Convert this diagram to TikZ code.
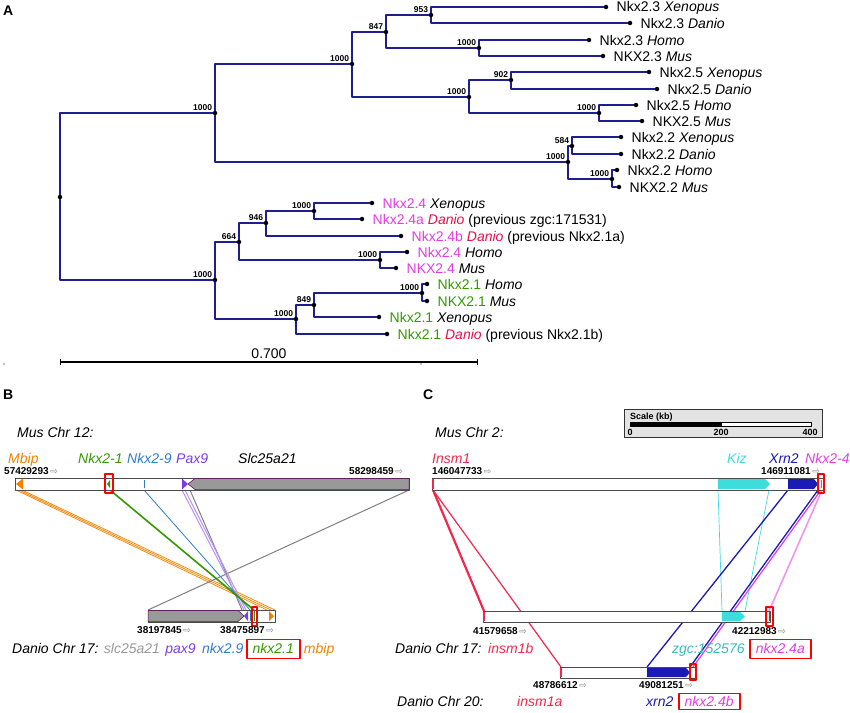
\documentclass[tikz,border=0pt]{standalone}
\usepackage{fontspec}
\setmainfont{Liberation Sans}
\newfontfamily\arrowfont{DejaVu Sans}
\usetikzlibrary{positioning,arrows.meta}

\definecolor{treeblue}{HTML}{1E1E8C}
\definecolor{nkxmag}{HTML}{E23CE2}
\definecolor{nkxgreen}{HTML}{339900}
\definecolor{danred}{HTML}{E8104A}
\definecolor{mbiporange}{HTML}{F08200}
\definecolor{nkxblue}{HTML}{2E7BCF}
\definecolor{paxpurple}{HTML}{7A3BE8}
\definecolor{slcgrey}{HTML}{999999}
\definecolor{kizcyan}{HTML}{3FDCDC}
\definecolor{xrnblue}{HTML}{1A1AB4}
\definecolor{insmred}{HTML}{F0284B}

\newcommand{\chrpos}[1]{\textbf{#1}\,{\arrowfont\fontsize{9}{9}\selectfont\color{gray}⇨}}

\begin{document}
\begin{tikzpicture}[x=1pt,y=-1pt,line join=round,
                    font=\fontsize{14}{16}\selectfont]
  \tikzstyle{fork}=[circle,fill=black,minimum size=4.5pt,inner sep=0pt]
  \tikzstyle{boot}=[font=\bfseries\fontsize{8.5}{9}\selectfont,inner sep=1pt,text height=6.5pt,text depth=0pt]
  \tikzstyle{leaf}=[inner sep=0pt,text height=10pt,text depth=0pt]
  \tikzstyle{branch}=[draw=treeblue,line width=1.7pt,to path={|- (\tikztotarget)}]
  \tikzstyle{glab}=[font=\itshape\fontsize{14}{16}\selectfont,inner sep=0pt]
  \tikzstyle{coord}=[font=\fontsize{10}{12}\selectfont,inner sep=0pt,anchor=base west]
  \tikzstyle{panel}=[font=\bfseries\fontsize{14}{16}\selectfont,inner sep=0pt,anchor=base west]
  \tikzstyle{genebox}=[draw=red,line width=1.9pt,inner xsep=6pt,inner ysep=2.5pt,text height=11pt,text depth=3pt]
  \tikzstyle{redbox}=[draw=red,line width=1.4pt]
  \tikzstyle{chrom}=[draw=black!70,line width=1pt,fill=white]
  \tikzstyle{syn}=[line width=1pt]

  \useasboundingbox (0,0) rectangle (850,712);

  \node[panel] (pA) at (3,16) {A};
  \node[panel] (pB) at (3,399) {B};
  \node[panel] (pC) at (423,399) {C};

  \node[fork]                                 (R)  at (60,197)  {};
  \node[fork,label={[boot]north west:1000}]   (a)  at (215,113) {};
  \node[fork,label={[boot]north west:1000}]   (b)  at (352,64)  {};
  \node[fork,label={[boot]north west:847}]    (c)  at (386,32)  {};
  \node[fork,label={[boot]north west:953}]    (d)  at (431,15)  {};
  \node[fork,label={[boot]north west:1000}]   (e)  at (479,48)  {};
  \node[fork,label={[boot]north west:1000}]   (f)  at (469,97)  {};
  \node[fork,label={[boot]north west:902}]    (g)  at (511,80)  {};
  \node[fork,label={[boot]north west:1000}]   (h)  at (599,113) {};
  \node[fork,label={[boot]north west:1000}]   (i)  at (568,162) {};
  \node[fork,label={[boot]north west:584}]    (j)  at (572,146) {};
  \node[fork,label={[boot]north west:1000}]   (k)  at (612,179) {};
  \node[fork,label={[boot]north west:1000}]   (l)  at (215,280) {};
  \node[fork,label={[boot]north west:664}]    (m)  at (239,242) {};
  \node[fork,label={[boot]north west:946}]    (n)  at (266,223) {};
  \node[fork,label={[boot]north west:1000}]   (o)  at (314,211) {};
  \node[fork,label={[boot]north west:1000}]   (p)  at (380,260) {};
  \node[fork,label={[boot]north west:1000}]   (q)  at (296,319) {};
  \node[fork,label={[boot]north west:849}]    (s)  at (314,305) {};
  \node[fork,label={[boot]north west:1000}]   (t)  at (422,293) {};

  \node[fork] (X3) at (606,7)   {};
  \node[fork] (D3) at (630,23)  {};
  \node[fork] (H3) at (589,40)  {};
  \node[fork] (M3) at (603,56)  {};
  \node[fork] (X5) at (649,72)  {};
  \node[fork] (D5) at (657,89)  {};
  \node[fork] (H5) at (636,105) {};
  \node[fork] (M5) at (642,121) {};
  \node[fork] (X2) at (621,137) {};
  \node[fork] (D2) at (621,154) {};
  \node[fork] (H2) at (617,170) {};
  \node[fork] (M2) at (619,187) {};
  \node[fork] (X4) at (372,203) {};
  \node[fork] (D4a) at (362,219) {};
  \node[fork] (D4b) at (401,236) {};
  \node[fork] (H4) at (407,252) {};
  \node[fork] (M4) at (396,268) {};
  \node[fork] (H1) at (427,284) {};
  \node[fork] (M1) at (427,301) {};
  \node[fork] (X1) at (379,317) {};
  \node[fork] (D1) at (387,334) {};

  \node[leaf,right=8pt of X3] (tX3) {Nkx2.3 \textit{Xenopus}};
  \node[leaf,right=8pt of D3] (tD3) {Nkx2.3 \textit{Danio}};
  \node[leaf,right=8pt of H3] (tH3) {Nkx2.3 \textit{Homo}};
  \node[leaf,right=8pt of M3] (tM3) {NKX2.3 \textit{Mus}};
  \node[leaf,right=8pt of X5] (tX5) {Nkx2.5 \textit{Xenopus}};
  \node[leaf,right=8pt of D5] (tD5) {Nkx2.5 \textit{Danio}};
  \node[leaf,right=8pt of H5] (tH5) {Nkx2.5 \textit{Homo}};
  \node[leaf,right=8pt of M5] (tM5) {NKX2.5 \textit{Mus}};
  \node[leaf,right=8pt of X2] (tX2) {Nkx2.2 \textit{Xenopus}};
  \node[leaf,right=8pt of D2] (tD2) {Nkx2.2 \textit{Danio}};
  \node[leaf,right=8pt of H2] (tH2) {Nkx2.2 \textit{Homo}};
  \node[leaf,right=8pt of M2] (tM2) {NKX2.2 \textit{Mus}};
  \node[leaf,right=8pt of X4] (tX4) {\textcolor{nkxmag}{Nkx2.4} \textit{Xenopus}};
  \node[leaf,right=8pt of D4a] (tD4a) {\textcolor{nkxmag}{Nkx2.4a} \textcolor{danred}{\textit{Danio}} (previous zgc:171531)};
  \node[leaf,right=8pt of D4b] (tD4b) {\textcolor{nkxmag}{Nkx2.4b} \textcolor{danred}{\textit{Danio}} (previous Nkx2.1a)};
  \node[leaf,right=8pt of H4] (tH4) {\textcolor{nkxmag}{Nkx2.4} \textit{Homo}};
  \node[leaf,right=8pt of M4] (tM4) {\textcolor{nkxmag}{NKX2.4} \textit{Mus}};
  \node[leaf,right=8pt of H1] (tH1) {\textcolor{nkxgreen}{Nkx2.1} \textit{Homo}};
  \node[leaf,right=8pt of M1] (tM1) {\textcolor{nkxgreen}{NKX2.1} \textit{Mus}};
  \node[leaf,right=8pt of X1] (tX1) {\textcolor{nkxgreen}{Nkx2.1} \textit{Xenopus}};
  \node[leaf,right=8pt of D1] (tD1) {\textcolor{nkxgreen}{Nkx2.1} \textcolor{danred}{\textit{Danio}} (previous Nkx2.1b)};

  \path[branch] (R) edge (a) edge (l)
                (a) edge (b) edge (i)
                (b) edge (c) edge (f)
                (c) edge (d) edge (e)
                (d) edge (X3) edge (D3)
                (e) edge (H3) edge (M3)
                (f) edge (g) edge (h)
                (g) edge (X5) edge (D5)
                (h) edge (H5) edge (M5)
                (i) edge (j) edge (k)
                (j) edge (X2) edge (D2)
                (k) edge (H2) edge (M2)
                (l) edge (m) edge (q)
                (m) edge (n) edge (p)
                (n) edge (o) edge (D4b)
                (o) edge (X4) edge (D4a)
                (p) edge (H4) edge (M4)
                (q) edge (s) edge (D1)
                (s) edge (t) edge (X1)
                (t) edge (H1) edge (M1);

  \coordinate (s0) at (60,362);
  \coordinate (s1) at (478,362);
  \draw[line width=1.4pt,{Bar[width=6pt]}-{Bar[width=6pt]}] (s0) -- node[above=3pt,inner sep=0pt] (sl) {0.700} (s1);
  \fill (4,364) circle (0.7);
  \fill (421,364) circle (0.7);

  \node[glab,anchor=base west] (mus12) at (17,437) {Mus Chr 12:};
  \node[glab,anchor=base west,text=mbiporange] (gMbip) at (8,463) {Mbip};
  \node[glab,anchor=base west,text=nkxgreen] (gNkx1) at (78,463) {Nkx2-1};
  \node[glab,anchor=base west,text=nkxblue] (gNkx9) at (127,463) {Nkx2-9};
  \node[glab,anchor=base west,text=paxpurple] (gPax) at (176,463) {Pax9};
  \node[glab,anchor=base west] (gSlc) at (238,463) {Slc25a21};
  \node[coord] (cB1) at (4,474) {\chrpos{57429293}};
  \node[coord] (cB2) at (349,474) {\chrpos{58298459}};

  \coordinate (mbip1) at (16,490);  \coordinate (dmbip1) at (267,610);
  \coordinate (mbip2) at (19,490);  \coordinate (dmbip2) at (271,610);
  \coordinate (mbip3) at (22,490);  \coordinate (dmbip3) at (275,610);
  \coordinate (nkx1) at (110,490);  \coordinate (dnkx1) at (254,610);
  \coordinate (nkx9) at (144,490);  \coordinate (dnkx9) at (250,610);
  \coordinate (pax1) at (182,490);  \coordinate (dpax1) at (244,610);
  \coordinate (pax2) at (185,490);  \coordinate (dpax2) at (246,610);
  \coordinate (slc1) at (190,490);  \coordinate (dslc1) at (242,610);
  \coordinate (slc2) at (409,490);  \coordinate (dslc2) at (148,610);

  \draw[syn,mbiporange,line width=0.7pt] (mbip1) -- (dmbip1) (mbip2) -- (dmbip2) (mbip3) -- (dmbip3);
  \draw[syn,gray] (slc1) -- (dslc1) (slc2) -- (dslc2);
  \draw[syn,paxpurple!55] (pax1) -- (dpax1) (pax2) -- (dpax2);
  \draw[syn,nkxblue,line width=0.8pt] (nkx9) -- (dnkx9);
  \draw[syn,nkxgreen,line width=1.6pt] (nkx1) -- (dnkx1);

  \draw[chrom] (15,478) rectangle (409,490);
  \fill[mbiporange] (16,484) -- (23,478.5) -- (23,489.5) -- cycle;
  \fill[nkxgreen] (107,484) -- (110,480) -- (110,488) -- cycle;
  \draw[nkxblue] (144,480) -- (144,488);
  \fill[paxpurple] (182,478.5) -- (188,484) -- (182,489.5) -- cycle;
  \filldraw[fill=slcgrey,draw=violet!70!black,line width=0.5pt] (188,484) -- (195,478.5) -- (409,478.5) -- (409,489.5) -- (195,489.5) -- cycle;
  \draw[redbox] (105,474) rectangle (113,493);

  \draw[chrom] (148,610) rectangle (275,622);
  \filldraw[fill=slcgrey,draw=violet!70!black,line width=0.5pt] (148,610.5) -- (238,610.5) -- (244,616) -- (238,621.5) -- (148,621.5) -- cycle;
  \fill[paxpurple] (244,616) -- (248,611) -- (248,621) -- cycle;
  \draw[nkxblue] (250,611) -- (250,621);
  \draw[nkxgreen,line width=1pt] (254,611) -- (254,621);
  \fill[mbiporange] (269,611) -- (274,616) -- (269,621) -- cycle;
  \draw[redbox] (252,607) rectangle (257,626);
  \node[coord] (cB3) at (137,633) {\chrpos{38197845}};
  \node[coord] (cB4) at (220,633) {\chrpos{38475897}};

  \node[glab,anchor=base west] (dB) at (12,653) {Danio Chr 17:};
  \node[glab,text=slcgrey,base right=5pt of dB] (bslc) {slc25a21};
  \node[glab,text=paxpurple,base right=5pt of bslc] (bpax) {pax9};
  \node[glab,text=nkxblue,base right=6pt of bpax] (bnkx9) {nkx2.9};
  \node[glab,text=nkxgreen,genebox,base right=2pt of bnkx9] (bnkx1) {nkx2.1};
  \node[glab,text=mbiporange,base right=3pt of bnkx1] (bmbip) {mbip};

  \node[glab,anchor=base west] (mus2) at (435,437) {Mus Chr 2:};
  \draw[fill=gray!22,draw=black!80] (624,409) rectangle (822,437);
  \node[anchor=base west,inner sep=0pt,font=\bfseries\fontsize{9}{10}\selectfont] (kb) at (630,419) {Scale (kb)};
  \draw[fill=black] (630,422) rectangle (721,426);
  \draw[fill=white] (721,422) rectangle (811,426);
  \node[anchor=base,inner sep=0pt,font=\bfseries\fontsize{9}{10}\selectfont] (kb0) at (630,435) {0};
  \node[anchor=base,inner sep=0pt,font=\bfseries\fontsize{9}{10}\selectfont] (kb200) at (721,435) {200};
  \node[anchor=base,inner sep=0pt,font=\bfseries\fontsize{9}{10}\selectfont] (kb400) at (810,435) {400};

  \node[glab,anchor=base west,text=insmred] (gInsm) at (432,463) {Insm1};
  \node[glab,anchor=base west,text=kizcyan] (gKiz) at (727,463) {Kiz};
  \node[glab,anchor=base west,text=xrnblue] (gXrn) at (769,463) {Xrn2};
  \node[glab,anchor=base west,text=nkxmag] (gNkx4) at (805,463) {Nkx2-4};
  \node[coord] (cC1) at (432,474) {\chrpos{146047733}};
  \node[coord] (cC2) at (761,474) {\chrpos{146911081}};

  \coordinate (minsm) at (433,490);  \coordinate (d17insm) at (484,611);
  \coordinate (d20insm) at (561,667);
  \coordinate (mkiz1) at (718,490);  \coordinate (d17kiz1) at (722,611);
  \coordinate (mkiz2) at (769,490);  \coordinate (d17kiz2) at (745,611);
  \coordinate (mxrn1) at (788,490);  \coordinate (d20xrn1) at (647,667);
  \coordinate (mxrn2) at (818,490);  \coordinate (d20xrn2) at (690,667);
  \coordinate (mnkx4) at (821,490);  \coordinate (d20nkx4) at (693,667);
  \coordinate (mnkx4b) at (822,490); \coordinate (d17nkx4) at (769,611);

  \draw[syn,insmred,line width=2.2pt] (minsm) -- (d17insm);
  \draw[syn,insmred,line width=1.2pt] (minsm) -- (d20insm);
  \draw[syn,kizcyan,line width=0.7pt] (mkiz1) -- (d17kiz1) (mkiz2) -- (d17kiz2);
  \draw[syn,xrnblue,line width=1.3pt] (mxrn1) -- (d20xrn1) (mxrn2) -- (d20xrn2);
  \draw[syn,nkxmag,line width=1.2pt] (mnkx4) -- (d20nkx4);
  \draw[syn,nkxmag!55,line width=1.6pt] (mnkx4b) -- (d17nkx4);

  \draw[chrom] (432,478) rectangle (823,490);
  \draw[insmred,line width=1.2pt] (433,479) -- (433,489);
  \fill[kizcyan] (718,479) -- (765,479) -- (770,484) -- (765,489) -- (718,489) -- cycle;
  \fill[xrnblue] (788,479) -- (814,479) -- (818,484) -- (814,489) -- (788,489) -- cycle;
  \draw[gray] (821,480) -- (821,488);
  \draw[redbox] (818,474) rectangle (824,493);

  \draw[chrom] (483,611) rectangle (770,622);
  \draw[insmred,line width=1.2pt] (484,612) -- (484,621);
  \fill[kizcyan] (722,612) -- (740,612) -- (745,616.5) -- (740,621) -- (722,621) -- cycle;
  \draw[nkxmag!70!black] (769,612) -- (769,621);
  \draw[redbox] (766,607) rectangle (773,626);
  \node[coord] (cC3) at (473,634) {\chrpos{41579658}};
  \node[coord] (cC4) at (732,634) {\chrpos{42212983}};

  \node[glab,anchor=base west] (dC17) at (395,653) {Danio Chr 17:};
  \node[glab,anchor=base west,text=insmred] (cinsmb) at (488,653) {insm1b};
  \node[glab,anchor=base west,text=kizcyan!85!black] (czgc) at (672,653) {zgc:152576};
  \node[glab,text=nkxmag,genebox,base right=4pt of czgc] (cnkx4a) {nkx2.4a};

  \draw[chrom] (560,667) rectangle (696,678);
  \draw[insmred,line width=1.2pt] (561,668) -- (561,677);
  \fill[xrnblue] (647,668) -- (686,668) -- (690,672.5) -- (686,677) -- (647,677) -- cycle;
  \draw[redbox] (690,664) rectangle (696,680);
  \node[coord] (cC5) at (533,688) {\chrpos{48786612}};
  \node[coord] (cC6) at (639,688) {\chrpos{49081251}};

  \node[glab,anchor=base west] (dC20) at (397,706) {Danio Chr 20:};
  \node[glab,anchor=base west,text=insmred] (cinsma) at (517,706) {insm1a};
  \node[glab,anchor=base west,text=xrnblue] (cxrn) at (646,706) {xrn2};
  \node[glab,text=nkxmag,genebox,inner ysep=1.5pt,text depth=2pt,base right=4pt of cxrn] (cnkx4b) {nkx2.4b};
\end{tikzpicture}
\end{document}
